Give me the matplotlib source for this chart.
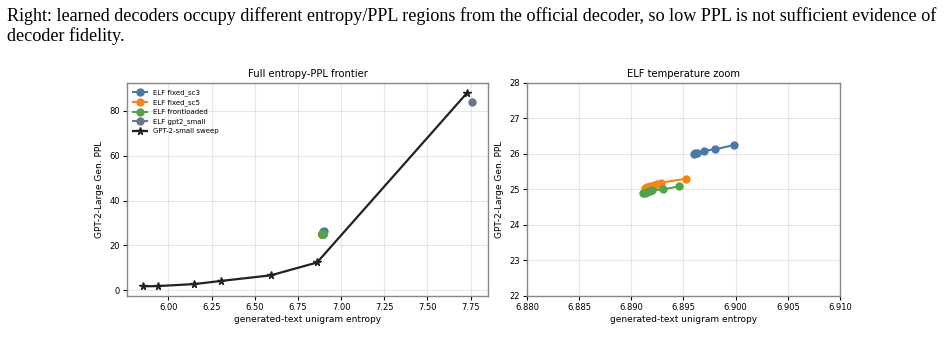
import matplotlib
matplotlib.use("Agg")
import matplotlib.pyplot as plt

# GPT-2-small temperature sweep (official decoder)
sweep_entropy = [5.855, 5.939, 6.151, 6.306, 6.594, 6.861, 7.731]
sweep_ppl = [1.8, 1.9, 2.8, 4.2, 6.7, 12.4, 88.0]

# ELF learned decoders, one point per temperature
sc3_entropy = [6.8960, 6.8961, 6.8963, 6.8970, 6.8980, 6.8998]
sc3_ppl = [26.00, 26.02, 26.04, 26.09, 26.13, 26.25]

sc5_entropy = [6.8913, 6.8915, 6.8918, 6.8922, 6.8925, 6.8928, 6.8952]
sc5_ppl = [25.05, 25.08, 25.10, 25.13, 25.16, 25.19, 25.30]

front_entropy = [6.8911, 6.8913, 6.8915, 6.8918, 6.8920, 6.8930, 6.8946]
front_ppl = [24.89, 24.91, 24.93, 24.96, 24.98, 25.00, 25.09]

small_entropy = [7.756]
small_ppl = [84.0]

elf_runs = [
    ("ELF fixed_sc3", sc3_entropy, sc3_ppl, "#4c78a8"),
    ("ELF fixed_sc5", sc5_entropy, sc5_ppl, "#f58518"),
    ("ELF frontloaded", front_entropy, front_ppl, "#54a24b"),
    ("ELF gpt2_small", small_entropy, small_ppl, "#6b7686"),
]

caption = ("Right: learned decoders occupy different entropy/PPL regions from the official decoder, "
           "so low PPL is not sufficient evidence of\ndecoder fidelity.")

plt.rcParams["font.family"] = "DejaVu Sans"
fig = plt.figure(figsize=(9.49, 3.41), dpi=100)

fig.text(0.0074, 0.978, caption, ha="left", va="top", fontsize=13.1,
         family="Liberation Serif", linespacing=1.1)

ax1 = fig.add_axes([0.1338, 0.132, 0.3804, 0.6246])
ax2 = fig.add_axes([0.5553, 0.132, 0.3298, 0.6246])

for name, xs, ys, c in elf_runs:
    ax1.plot(xs, ys, "-o", color=c, lw=1.5, ms=5, label=name)
ax1.plot(sweep_entropy, sweep_ppl, "-*", color="#222222", lw=1.6, ms=5.5,
         label="GPT-2-small sweep")
ax1.set_title("Full entropy-PPL frontier", fontsize=7.2, pad=4)
ax1.set_xlabel("generated-text unigram entropy", fontsize=6.5, labelpad=2)
ax1.set_ylabel("GPT-2-Large Gen. PPL", fontsize=6.5, labelpad=4)
ax1.set_xticks([6.00, 6.25, 6.50, 6.75, 7.00, 7.25, 7.50, 7.75])
ax1.set_yticks([0, 20, 40, 60, 80])
ax1.legend(loc="upper left", fontsize=5, frameon=False, handlelength=2.0,
           borderaxespad=0.5, labelspacing=0.45)

for name, xs, ys, c in elf_runs[:3]:
    ax2.plot(xs, ys, "-o", color=c, lw=1.5, ms=5)
ax2.set_xlim(6.880, 6.910)
ax2.set_ylim(22, 28)
ax2.set_xticks([6.880, 6.885, 6.890, 6.895, 6.900, 6.905, 6.910])
ax2.set_title("ELF temperature zoom", fontsize=7.2, pad=4)
ax2.set_xlabel("generated-text unigram entropy", fontsize=6.5, labelpad=2)
ax2.set_ylabel("GPT-2-Large Gen. PPL", fontsize=6.5, labelpad=4)

for ax in (ax1, ax2):
    ax.grid(True, alpha=0.3)
    ax.tick_params(labelsize=6, length=3, width=0.8, pad=2)
    for sp in ax.spines.values():
        sp.set_color("#888888")
        sp.set_linewidth(1.0)

fig.savefig("out.png", dpi=100)
